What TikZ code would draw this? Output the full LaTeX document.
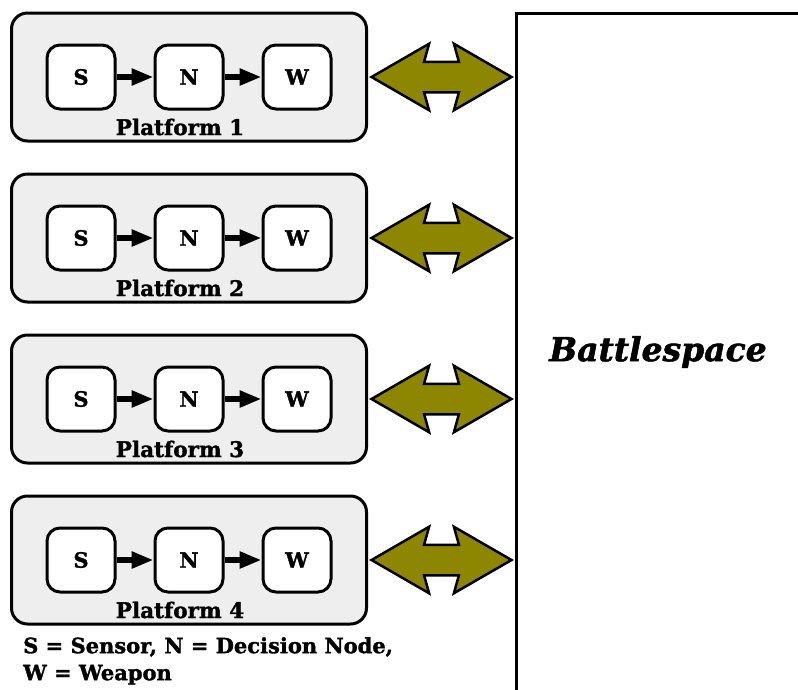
\documentclass[tikz,border=0pt]{standalone}
\usepackage{fontspec}
\setmainfont{DejaVu Serif}[BoldFeatures={FakeBold=1.5}, BoldItalicFeatures={FakeBold=1.5}]
\usetikzlibrary{shapes.arrows, arrows.meta}

\tikzstyle{platform} = [rectangle, rounded corners=16pt, minimum width=355pt, minimum height=128pt, draw=black, line width=3pt, fill=gray!13]
\tikzstyle{unit} = [rectangle, rounded corners=13pt, minimum width=68pt, minimum height=64pt, draw=black, line width=3pt, fill=white, text centered, font=\fontsize{21}{24}\selectfont\bfseries]
\tikzstyle{plabel} = [inner sep=0pt, font=\fontsize{21.5}{24}\selectfont\bfseries]
\tikzstyle{link} = [double arrow, draw=black, fill=olive, line width=2.5pt, minimum height=140pt, inner xsep=0pt, inner ysep=14pt, double arrow head extend=18pt, double arrow tip angle=60, double arrow head indent=5pt]
\tikzstyle{arrow} = [line width=6pt, -{Triangle[length=22pt, width=16pt]}]

\begin{document}
\begin{tikzpicture}[x=1pt, y=-1pt, node distance=108pt]
\useasboundingbox (0,0) rectangle (798,689);

% Battlespace
\node (field) [rectangle, draw=black, line width=3pt, minimum width=330pt, minimum height=720pt, anchor=north west, inner sep=0pt] at (515,12) {};
\node (bslabel) [font=\fontsize{33}{36}\selectfont\bfseries\itshape] at (658,352) {Battlespace};

% Platforms
\node (plat1) [platform] at (189,77) {};
\node (plat2) [platform, below of=plat1, yshift=-53pt] {};
\node (plat3) [platform, below of=plat2, yshift=-53pt] {};
\node (plat4) [platform, below of=plat3, yshift=-53pt] {};

% Platform 1
\node (n1) [unit] at (plat1) {N};
\node (s1) [unit, left of=n1] {S};
\node (w1) [unit, right of=n1] {W};
\node (lab1) [plabel, below of=n1, xshift=-9pt, yshift=58pt] {Platform 1};

% Platform 2
\node (n2) [unit] at (plat2) {N};
\node (s2) [unit, left of=n2] {S};
\node (w2) [unit, right of=n2] {W};
\node (lab2) [plabel, below of=n2, xshift=-9pt, yshift=58pt] {Platform 2};

% Platform 3
\node (n3) [unit] at (plat3) {N};
\node (s3) [unit, left of=n3] {S};
\node (w3) [unit, right of=n3] {W};
\node (lab3) [plabel, below of=n3, xshift=-9pt, yshift=58pt] {Platform 3};

% Platform 4
\node (n4) [unit] at (plat4) {N};
\node (s4) [unit, left of=n4] {S};
\node (w4) [unit, right of=n4] {W};
\node (lab4) [plabel, below of=n4, xshift=-9pt, yshift=58pt] {Platform 4};

% Links to the battlespace
\node (link1) [link, right of=plat1, xshift=144.5pt] {};
\node (link2) [link, right of=plat2, xshift=144.5pt] {};
\node (link3) [link, right of=plat3, xshift=144.5pt] {};
\node (link4) [link, right of=plat4, xshift=144.5pt] {};

% Legend
\node (legend) [anchor=north west, align=left, inner sep=0pt, font=\fontsize{21}{27}\selectfont\bfseries] at (23,637) {S = Sensor, N = Decision Node,\\W = Weapon};

% Arrows
\draw [arrow] (s1) -- (n1);
\draw [arrow] (n1) -- (w1);
\draw [arrow] (s2) -- (n2);
\draw [arrow] (n2) -- (w2);
\draw [arrow] (s3) -- (n3);
\draw [arrow] (n3) -- (w3);
\draw [arrow] (s4) -- (n4);
\draw [arrow] (n4) -- (w4);

\end{tikzpicture}
\end{document}
